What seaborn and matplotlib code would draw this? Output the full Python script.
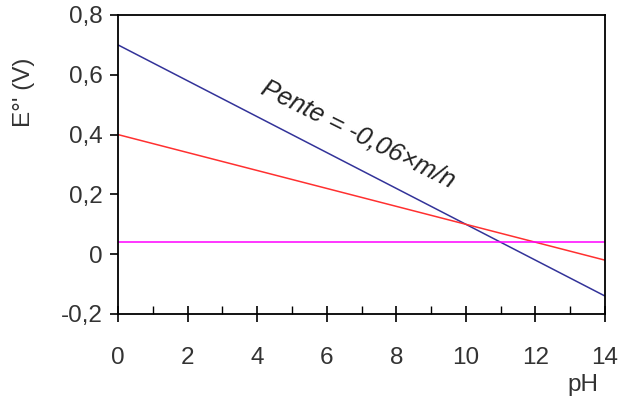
import matplotlib
matplotlib.use("Agg")
import matplotlib.pyplot as plt
import seaborn as sns
import pandas as pd
from matplotlib.ticker import MultipleLocator

sns.set_style("white")
plt.rcParams['font.family'] = ['Liberation Sans', 'DejaVu Sans']

ph = [0, 14]
blue_E = [0.70, -0.14]
red_E = [0.40, -0.02]
magenta_E = [0.04, 0.04]
yticks = [-0.2, 0, 0.2, 0.4, 0.6, 0.8]
ytick_labels = ["-0,2", "0", "0,2", "0,4", "0,6", "0,8"]
xticks = [0, 2, 4, 6, 8, 10, 12, 14]
xtick_labels = ["0", "2", "4", "6", "8", "10", "12", "14"]

df = pd.DataFrame({"pH": ph * 3,
                   "E": blue_E + red_E + magenta_E,
                   "s": ["b"] * 2 + ["r"] * 2 + ["m"] * 2})

fig = plt.figure(figsize=(6.35, 4.05), dpi=100)
ax = fig.add_axes([0.1858, 0.2247, 0.767, 0.7383])
sns.lineplot(data=df, x="pH", y="E", hue="s",
             palette={"b": "#333399", "r": "#ff3030", "m": "#ff00ff"},
             linewidth=1.1, legend=False, ax=ax)

ax.set_xlim(0, 14)
ax.set_ylim(-0.2, 0.8)
ax.set_xticks(xticks)
ax.set_xticklabels(xtick_labels)
ax.set_yticks(yticks)
ax.set_yticklabels(ytick_labels)
ax.xaxis.set_minor_locator(MultipleLocator(1))

for s in ax.spines.values():
    s.set_color("black")
    s.set_linewidth(1.3)

ax.tick_params(axis="x", which="major", direction="inout", length=12, width=1.2,
               colors="black", labelcolor="#333333", labelsize=17.5, pad=18,
               bottom=True)
ax.tick_params(axis="x", which="minor", direction="in", length=6, width=1.0,
               bottom=True, colors="black")
ax.tick_params(axis="y", which="major", direction="out", length=6, width=1.2,
               colors="black", labelcolor="#333333", labelsize=17.5, pad=5,
               left=True)

ax.set_xlabel("pH", fontsize=17.5, color="#333333")
ax.xaxis.set_label_coords(0.955, -0.2)
ax.set_ylabel("E°' (V)", fontsize=17.5, color="#333333")
ax.yaxis.set_label_coords(-0.17, 0.74)

ax.text(6.9, 0.40, "Pente = -0,06×m/n", rotation=-26.5, rotation_mode="anchor",
        ha="center", va="center", style="italic", fontsize=18.5, color="#222222")

fig.savefig("out.png", dpi=100)
